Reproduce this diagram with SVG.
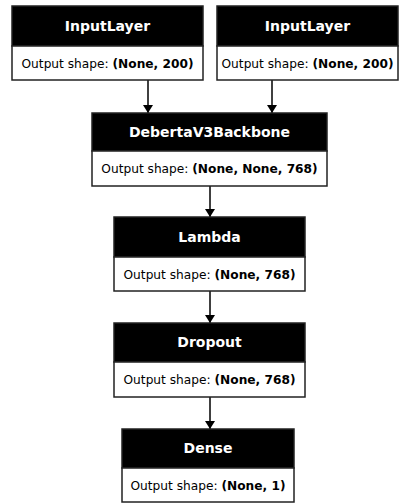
<svg xmlns="http://www.w3.org/2000/svg" width="399" height="504" viewBox="0 0 399 504">
<defs>
<style>
.hdr{fill:#000;stroke:#222;stroke-width:1.5}
.body{fill:#fff;stroke:#222;stroke-width:1.5}
.t{font-family:"DejaVu Sans",sans-serif;font-weight:bold;font-size:14px;fill:#fff;text-anchor:middle}
.s{font-family:"DejaVu Sans",sans-serif;font-size:12.2px;fill:#000;text-anchor:middle}
.b{font-weight:bold}
.edge{stroke:#000;stroke-width:1.5;fill:none;marker-end:url(#ah)}
</style>
<marker id="ah" markerWidth="8" markerHeight="10" refX="8" refY="5" orient="auto" markerUnits="userSpaceOnUse" viewBox="0 0 8 10">
<path d="M0,0 L8,5 L0,10 z" fill="#000"/>
</marker>
</defs>
<g id="edges">
<line class="edge" x1="148" y1="80" x2="148" y2="113"/>
<line class="edge" x1="272" y1="80" x2="272" y2="113"/>
<line class="edge" x1="210" y1="186" x2="210" y2="217"/>
<line class="edge" x1="210" y1="291" x2="210" y2="323"/>
<line class="edge" x1="210" y1="397" x2="210" y2="429"/>
</g>
<g id="input1">
<rect class="hdr" x="12" y="6" width="191" height="40"/>
<rect class="body" x="12" y="46" width="191" height="34"/>
<text class="t" x="107.5" y="31">InputLayer</text>
<text class="s" x="107.5" y="67.5">Output shape: <tspan class="b">(None, 200)</tspan></text>
</g>
<g id="input2">
<rect class="hdr" x="217" y="6" width="181" height="40"/>
<rect class="body" x="217" y="46" width="181" height="34"/>
<text class="t" x="307.5" y="31">InputLayer</text>
<text class="s" x="307.5" y="67.5">Output shape: <tspan class="b">(None, 200)</tspan></text>
</g>
<g id="backbone">
<rect class="hdr" x="92" y="113" width="235" height="38"/>
<rect class="body" x="92" y="151" width="235" height="35"/>
<text class="t" x="209.5" y="137">DebertaV3Backbone</text>
<text class="s" x="209.5" y="173">Output shape: <tspan class="b">(None, None, 768)</tspan></text>
</g>
<g id="lambda">
<rect class="hdr" x="114" y="217" width="191" height="40"/>
<rect class="body" x="114" y="257" width="191" height="34"/>
<text class="t" x="209.5" y="242">Lambda</text>
<text class="s" x="209.5" y="278.5">Output shape: <tspan class="b">(None, 768)</tspan></text>
</g>
<g id="dropout">
<rect class="hdr" x="114" y="323" width="191" height="39"/>
<rect class="body" x="114" y="362" width="191" height="35"/>
<text class="t" x="209.5" y="347">Dropout</text>
<text class="s" x="209.5" y="384">Output shape: <tspan class="b">(None, 768)</tspan></text>
</g>
<g id="dense">
<rect class="hdr" x="122" y="429" width="172" height="39"/>
<rect class="body" x="122" y="468" width="172" height="34"/>
<text class="t" x="208" y="453">Dense</text>
<text class="s" x="208" y="489.5">Output shape: <tspan class="b">(None, 1)</tspan></text>
</g>
</svg>
